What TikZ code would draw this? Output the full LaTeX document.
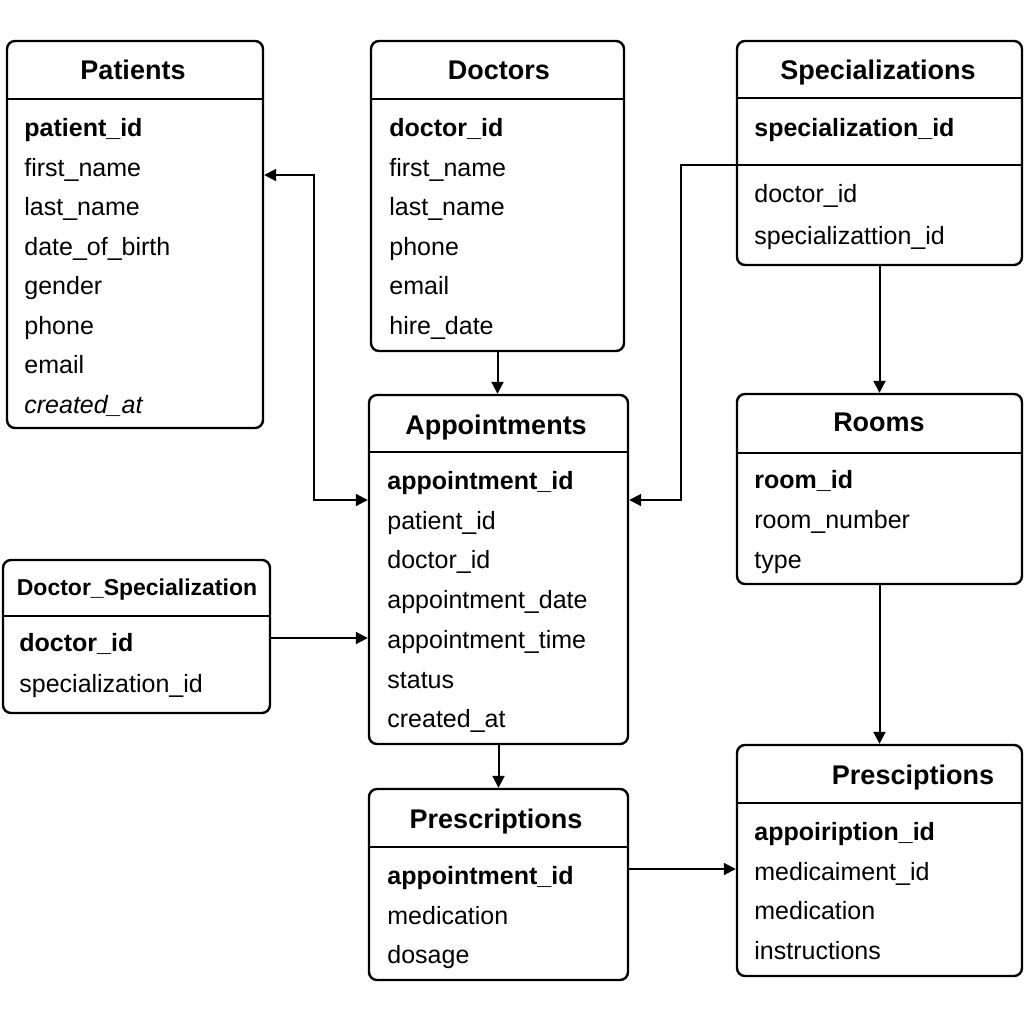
\documentclass[tikz,border=0pt]{standalone}
\usepackage{fontspec}
\setmainfont{Liberation Sans}
\usepackage{tikz}
\usetikzlibrary{positioning,fit,arrows.meta}
\tikzset{
	>={Triangle[length=6pt,width=6pt]},
	entity/.style={draw, line width=1.2pt, rounded corners=4pt, inner sep=0pt},
	header/.style={anchor=base, inner sep=0pt, font=\fontsize{13.5}{16}\selectfont\bfseries},
	field/.style={anchor=base west, inner sep=0pt, font=\fontsize{12.5}{15}\selectfont},
	link/.style={->, line width=1pt},
}

\begin{document}
\begin{tikzpicture}[x=0.5pt, y=-0.5pt]
        \path[fill=white] (0,0) rectangle (1024,1024);
        \useasboundingbox (0,0) rectangle (1024,1024);

        % tables
        \node[entity, fit={(7,41) (263,428)}] (patients) {};
        \draw[line width=1.2pt] (patients.west |- 0,99) -- (patients.east |- 0,99);
        \node[header] (patients-t) at (133,79.5) {Patients};
        \foreach \f [count=\i] in {\textbf{patient\_id}, first\_name, last\_name, date\_of\_birth, gender, phone, email, \textit{created\_at}}
            \node[field] (patients-\i) at (24, {136.5+(\i-1)*39.5}) {\f};

        \node[entity, fit={(371,41) (624,351)}] (doctors) {};
        \draw[line width=1.2pt] (doctors.west |- 0,99) -- (doctors.east |- 0,99);
        \node[header] (doctors-t) at (499,79.5) {Doctors};
        \foreach \f [count=\i] in {\textbf{doctor\_id}, first\_name, last\_name, phone, email, hire\_date}
            \node[field] (doctors-\i) at (389, {136.5+(\i-1)*39.5}) {\f};

        \node[entity, fit={(737,41) (1022,265)}] (specs) {};
        \draw[line width=1.2pt] (specs.west |- 0,98) -- (specs.east |- 0,98);
        \draw[line width=1.2pt] (specs.west |- 0,165) -- (specs.east |- 0,165);
        \node[header] (specs-t) at (878,79.5) {Specializations};
        \node[field] (specs-1) at (754,136.5) {\textbf{specialization\_id}};
        \node[field] (specs-2) at (754,202.5) {doctor\_id};
        \node[field] (specs-3) at (754,244.5) {specializattion\_id};

        \node[entity, fit={(369,395) (628,744)}] (appts) {};
        \draw[line width=1.2pt] (appts.west |- 0,452) -- (appts.east |- 0,452);
        \node[header] (appts-t) at (496,434.5) {Appointments};
        \foreach \f [count=\i] in {\textbf{appointment\_id}, patient\_id, doctor\_id, appointment\_date, appointment\_time, status, created\_at}
            \node[field] (appts-\i) at (387, {489.5+(\i-1)*39.7}) {\f};

        \node[entity, fit={(3,560) (270,713)}] (docspec) {};
        \draw[line width=1.2pt] (docspec.west |- 0,616) -- (docspec.east |- 0,616);
        \node[header, font=\fontsize{11.5}{14}\selectfont\bfseries] (docspec-t) at (137,595) {Doctor\_Specialization};
        \node[field] (docspec-1) at (19,651.5) {\textbf{doctor\_id}};
        \node[field] (docspec-2) at (19,692.5) {specialization\_id};

        \node[entity, fit={(737,394) (1022,584)}] (rooms) {};
        \draw[line width=1.2pt] (rooms.west |- 0,453) -- (rooms.east |- 0,453);
        \node[header] (rooms-t) at (879,431.5) {Rooms};
        \foreach \f [count=\i] in {\textbf{room\_id}, room\_number, type}
            \node[field] (rooms-\i) at (754, {488.5+(\i-1)*40}) {\f};

        \node[entity, fit={(369,789) (628,980)}] (prescs) {};
        \draw[line width=1.2pt] (prescs.west |- 0,847) -- (prescs.east |- 0,847);
        \node[header] (prescs-t) at (496,828.5) {Prescriptions};
        \foreach \f [count=\i] in {\textbf{appointment\_id}, medication, dosage}
            \node[field] (prescs-\i) at (387, {884.5+(\i-1)*39.5}) {\f};

        \node[entity, fit={(737,745) (1022,976)}] (prescs2) {};
        \draw[line width=1.2pt] (prescs2.west |- 0,803) -- (prescs2.east |- 0,803);
        \node[header] (prescs2-t) at (913,784.5) {Presciptions};
        \foreach \f [count=\i] in {\textbf{appoiription\_id}, medicaiment\_id, medication, instructions}
            \node[field] (prescs2-\i) at (754, {840.5+(\i-1)*39.7}) {\f};

        % relations
        \draw[link] (doctors.south) -- (doctors.south |- appts.north);
        \draw[link, <->] (patients.east |- 0,175) -| (314,500) -- (appts.west |- 0,500);
        \draw[link] (specs.west |- 0,165) -| (681,500) -- (appts.east |- 0,500);
        \draw[link] (specs.south) -- (rooms.north);
        \draw[link] (rooms.south) -- (prescs2.north);
        \draw[link] (docspec.east |- 0,638) -- (appts.west |- 0,638);
        \draw[link] (appts.south) -- (prescs.north);
        \draw[link] (prescs.east |- 0,869) -- (prescs2.west |- 0,869);
    \end{tikzpicture}
\end{document}
